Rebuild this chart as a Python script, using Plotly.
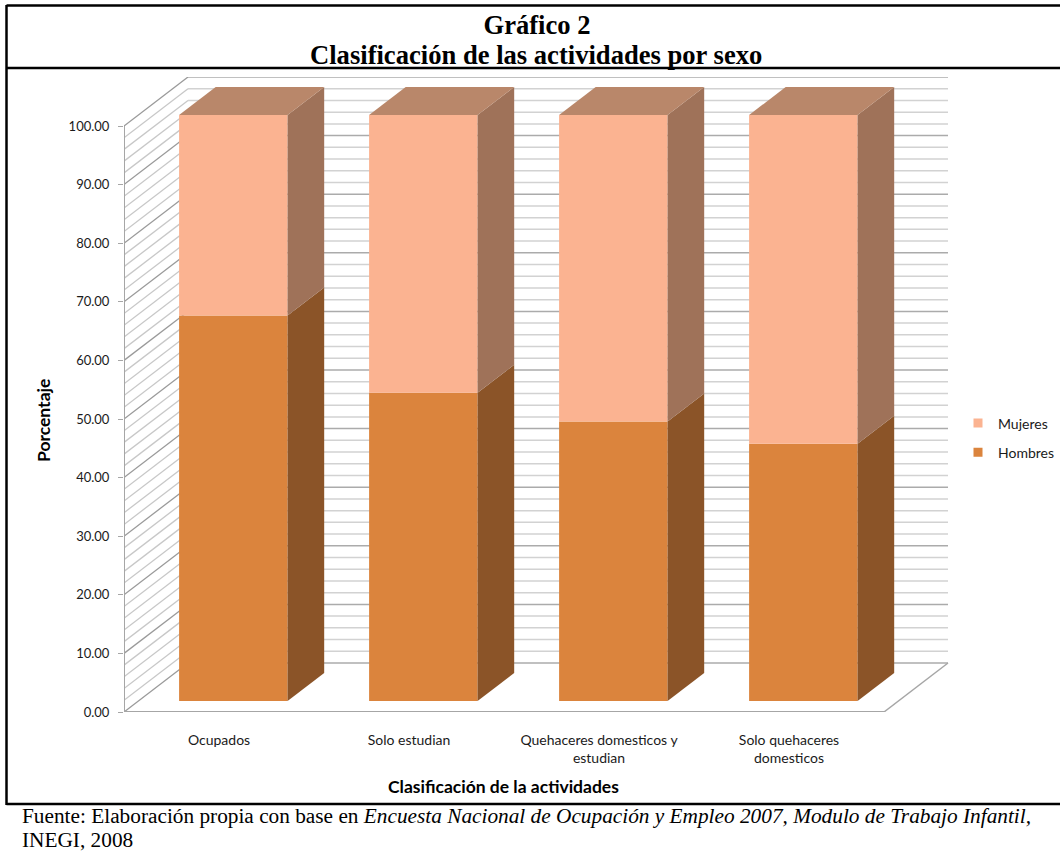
import plotly.graph_objects as go

# Survey shares by activity type and sex
categories = ["Ocupados", "Solo estudian", "Quehaceres domesticos y<br>estudian", "Solo quehaceres<br>domesticos"]
hombres = [65.8, 52.6, 47.7, 43.9]
mujeres = [34.2, 47.4, 52.3, 56.1]
y_ticks = [0, 10, 20, 30, 40, 50, 60, 70, 80, 90, 100]

WIDTH, HEIGHT = 1060, 852
LEFT, RIGHT, TOP, BOTTOM = 124, 1060, 77, 712     # plot area in page pixels
SLOT_PX = 190.0                                   # width of one category
UNIT_PX = 5.86                                    # pixels per percentage point
DEPTH_X = 64 / SLOT_PX                            # oblique shift of the back wall
DEPTH_Y = 49 / UNIT_PX
BAR_WIDTH = 108.5 / SLOT_PX
BAR_NEAR, BAR_FAR = 0.224, 0.796                  # bar depth as fraction of the floor

C_H_FRONT, C_H_SIDE = "#DB843D", "#8B5428"
C_M_FRONT, C_M_SIDE, C_M_TOP = "#FBB391", "#9F7259", "#B9876A"
C_MAJOR, C_MINOR, C_AXIS = "#ABABAB", "#D2D2D2", "#A6A6A6"


def px_x(x):
    return (x - LEFT) / (RIGHT - LEFT)


def px_y(y):
    return (BOTTOM - y) / (BOTTOM - TOP)


def project(x, y, depth):
    """Oblique projection of a point (slot, percent, depth) onto the plot plane."""
    return x + depth * DEPTH_X, y + depth * DEPTH_Y


def line(x0, y0, x1, y1, color, width):
    return dict(type="line", layer="below", x0=x0, y0=y0, x1=x1, y1=y1,
                xref="x", yref="y", line=dict(color=color, width=width))


def page_rule(x0, y0, x1, y1):
    return dict(type="line", xref="paper", yref="paper",
                x0=px_x(x0), x1=px_x(x1), y0=px_y(y0), y1=px_y(y1),
                line=dict(color="#000000", width=2.5))


def page_text(text, x, y, font, xanchor="center", **kwargs):
    return dict(text=text, xref="paper", yref="paper", x=px_x(x), y=px_y(y),
                xanchor=xanchor, yanchor="middle", showarrow=False, font=font, **kwargs)


def face(points, color):
    xs, ys = zip(*[project(*p) for p in points])
    return go.Scatter(x=list(xs) + [xs[0]], y=list(ys) + [ys[0]], mode="none",
                      fill="toself", fillcolor=color, hoverinfo="skip", showlegend=False)


n = len(categories)
centers = [i + 0.5 for i in range(n)]
shapes = []

# Walls: side wall and back wall rules every 2 points, heavier every 10
for v in range(0, 101, 2):
    major = v % 10 == 0
    x0, y0 = project(0, v, 0)
    x1, y1 = project(0, v, 1)
    x2, y2 = project(n, v, 1)
    shapes.append(line(x0, y0, x1, y1, "#9A9A9A" if major else "#C8C8C8", 1.3))
    shapes.append(line(x1, y1, x2, y2, C_MAJOR if major else C_MINOR, 1.5))

# Floor outline and the two visible axis lines
fx, fy = project(n, 0, 0)
bx, by = project(n, 0, 1)
shapes.append(line(fx, fy, bx, by, C_AXIS, 1.5))
shapes.append(line(0, 0, fx, fy, C_AXIS, 2))
shapes.append(line(0, 0, 0, 100, C_AXIS, 2))

fig = go.Figure()

# Front faces are stacked bars lifted and shifted to their depth on the floor
near_dx, near_dy = project(0, 0, BAR_NEAR)
half = BAR_WIDTH / 2
bar_x = [c + near_dx for c in centers]
fig.add_trace(go.Bar(x=bar_x, y=hombres, base=[near_dy] * n, width=BAR_WIDTH,
                     marker=dict(color=C_H_FRONT, line=dict(width=0)), showlegend=False))
fig.add_trace(go.Bar(x=bar_x, y=mujeres, base=[near_dy + h for h in hombres], width=BAR_WIDTH,
                     marker=dict(color=C_M_FRONT, line=dict(width=0)), showlegend=False))

# Side and top faces
for c, h, m in zip(centers, hombres, mujeres):
    r = c + half
    l = c - half
    total = h + m
    fig.add_trace(face([(r, 0, BAR_NEAR), (r, 0, BAR_FAR), (r, h, BAR_FAR), (r, h, BAR_NEAR)], C_H_SIDE))
    fig.add_trace(face([(r, h, BAR_NEAR), (r, h, BAR_FAR), (r, total, BAR_FAR), (r, total, BAR_NEAR)], C_M_SIDE))
    fig.add_trace(face([(l, total, BAR_NEAR), (l, total, BAR_FAR), (r, total, BAR_FAR), (r, total, BAR_NEAR)], C_M_TOP))

# Legend keys
for name, color in [("Mujeres", C_M_FRONT), ("Hombres", C_H_FRONT)]:
    fig.add_trace(go.Scatter(x=[None], y=[None], mode="markers", name=name, legendgroup=name,
                             marker=dict(symbol="square", size=9, color=color)))

# Page frame around heading, chart and source note
shapes += [page_rule(6.5, 5.5, 1060, 5.5), page_rule(6.5, 68, 1060, 68),
           page_rule(6.5, 804, 1060, 804), page_rule(6.5, 5, 6.5, 805)]

SERIF = "Liberation Serif"
SANS = "Lato"
NOTE_FONT = dict(family=SERIF, size=21.3, color="#000000")
AXIS_TITLE_FONT = dict(size=17.5, color="#000000")
fig.update_layout(
    width=WIDTH, height=HEIGHT, autosize=False,
    margin=dict(l=LEFT, r=WIDTH - RIGHT, t=TOP, b=HEIGHT - BOTTOM),
    paper_bgcolor="white", plot_bgcolor="white", barmode="overlay",
    font=dict(family=SANS, size=12, color="#1A1A1A"),
    title=dict(text="<b>Gráfico 2</b>", x=537 / WIDTH, xanchor="center",
               y=1 - 25 / HEIGHT, yanchor="middle",
               font=dict(family=SERIF, size=26.6, color="#000000")),
    xaxis=dict(range=[0, (RIGHT - LEFT) / SLOT_PX], tickvals=centers, ticktext=categories,
               ticks="outside", ticklen=15, tickcolor="rgba(0,0,0,0)", showgrid=False,
               zeroline=False, showline=False, tickangle=0, tickfont=dict(size=14)),
    yaxis=dict(range=[0, (BOTTOM - TOP) / UNIT_PX], tickvals=y_ticks, tickformat=".2f",
               ticks="outside", ticklen=5, tickcolor=C_AXIS, showgrid=False,
               zeroline=False, showline=False, tickfont=dict(size=13), ticklabelstandoff=6),
    legend=dict(x=px_x(958), xanchor="left", y=px_y(438), yanchor="middle",
                font=dict(size=14), tracegroupgap=8, bgcolor="rgba(0,0,0,0)",
                entrywidth=58, entrywidthmode="pixels"),
    shapes=shapes,
    annotations=[
        page_text("<b>Clasificación de las actividades por sexo</b>", 536, 55,
                  dict(family=SERIF, size=26.6, color="#000000")),
        page_text("<b>Clasificación de la actividades</b>", 503.5, 786, AXIS_TITLE_FONT),
        page_text("<b>Porcentaje</b>", 43, 421, AXIS_TITLE_FONT, textangle=-90),
        page_text("Fuente: Elaboración propia con base en <i>Encuesta Nacional de Ocupación y Empleo 2007, "
                  "Modulo de Trabajo Infantil,</i>", 20, 816, NOTE_FONT, xanchor="left"),
        page_text("INEGI, 2008", 20, 840, NOTE_FONT, xanchor="left"),
    ],
)

fig.write_html("out.html")
